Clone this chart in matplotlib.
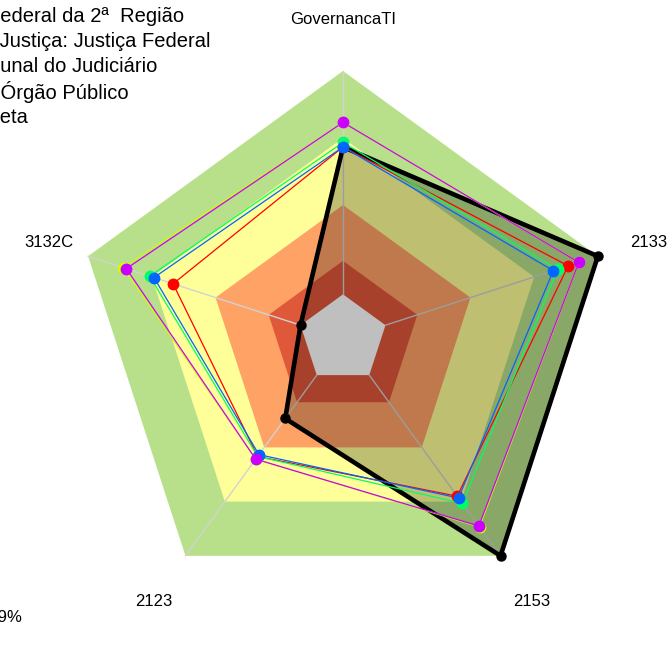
import numpy as np
import matplotlib
matplotlib.use('Agg')
import matplotlib.pyplot as plt

plt.rcParams['font.family'] = ['Liberation Sans', 'DejaVu Sans']

# eixos do radar (sentido horário a partir do topo)
categorias = ['GovernancaTI', '2133', '2153', '2123', '3132C']

# valores (0 a 1)
org = [0.66, 1.00, 1.00, 0.24, 0.00]
serie_vermelha = [0.66, 0.86, 0.67, 0.45, 0.60]
serie_amarela = [0.77, 0.91, 0.84, 0.465, 0.835]
serie_verde = [0.68, 0.81, 0.71, 0.45, 0.71]
serie_azul = [0.66, 0.79, 0.68, 0.44, 0.69]
serie_magenta = [0.77, 0.91, 0.835, 0.465, 0.82]

# faixas do iGovTI
faixas = [1.0, 0.70, 0.40, 0.15, 0.0]
cores_faixas = ['#B8E08A', '#FFFF99', '#FFA266', '#E0583A', '#FFFFFF']

legenda = [
    ('Tribunal Regional F', 'ederal da 2ª  Região'),
    ('Segmento de ', 'Justiça: Justiça Federal'),
    ('Média por Trib', 'unal do Judiciário'),
    ('Média por ', 'Órgão Público'),
    ('M', 'eta'),
]

n = len(categorias)
ang = np.pi / 2 - 2 * np.pi * np.arange(n) / n


def escala(v):
    # como no fmsb: centro vazio de 1/6
    return 1 / 6 + 5 / 6 * np.asarray(v, dtype=float)


def xy(v):
    r = escala(v)
    x = r * np.cos(ang)
    y = r * np.sin(ang)
    return np.append(x, x[0]), np.append(y, y[0])


W, H = 669, 666
fig = plt.figure(figsize=(W / 100, H / 100), dpi=100)
ax = fig.add_axes([0, 0, 1, 1])
R = 268
cx, cy = 343, 339
ax.set_xlim(-cx / R, (W - cx) / R)
ax.set_ylim(-(H - cy) / R, cy / R)
ax.axis('off')

for f, c in zip(faixas, cores_faixas):
    x, y = xy([f] * n)
    ax.fill(x, y, color=c, lw=0, zorder=1)

r0 = escala(0)
for a in ang:
    ax.plot([r0 * np.cos(a), np.cos(a)], [r0 * np.sin(a), np.sin(a)],
            color='#D2D2D2', lw=1, zorder=2)

x, y = xy(org)
ax.fill(x, y, color='black', alpha=0.25, lw=0, zorder=3)
ax.plot(x, y, color='black', lw=3.3, zorder=4)
ax.plot(x[:-1], y[:-1], 'o', color='black', ms=6.5, zorder=5)

series = [serie_vermelha, serie_amarela, serie_verde, serie_azul, serie_magenta]
cores = ['#FF0000', '#CCFF00', '#00FF66', '#0066FF', '#CC00FF']
for s, c in zip(series, cores):
    x, y = xy(s)
    ax.plot(x, y, color=c, lw=0.9, zorder=6)
    ax.plot(x[:-1], y[:-1], 'o', color=c, ms=7.5, zorder=7)

desloc = {'3132C': 12 / R}
for a, lab in zip(ang, categorias):
    ax.text(1.2 * np.cos(a) + desloc.get(lab, 0), 1.2 * np.sin(a) - 2.5 / R, lab,
            ha='center', va='center', fontsize=12, zorder=8)

# legenda (cortada na borda esquerda, como na figura original)
renderer = fig.canvas.get_renderer()
for i, (pref, vis) in enumerate(legenda):
    ypix = H - (16 + 25.4 * i)
    t = fig.text(0, ypix / H, pref, fontsize=14.5, va='center', ha='left')
    wpref = t.get_window_extent(renderer).width
    t.remove()
    fig.text(-wpref / W, ypix / H, pref + vis, fontsize=14.5, va='center', ha='left')

fig.text(22 / W, (H - 617) / H, 'iGovTI: 49%', fontsize=12, va='center', ha='right')

fig.savefig('out.png', dpi=100)
